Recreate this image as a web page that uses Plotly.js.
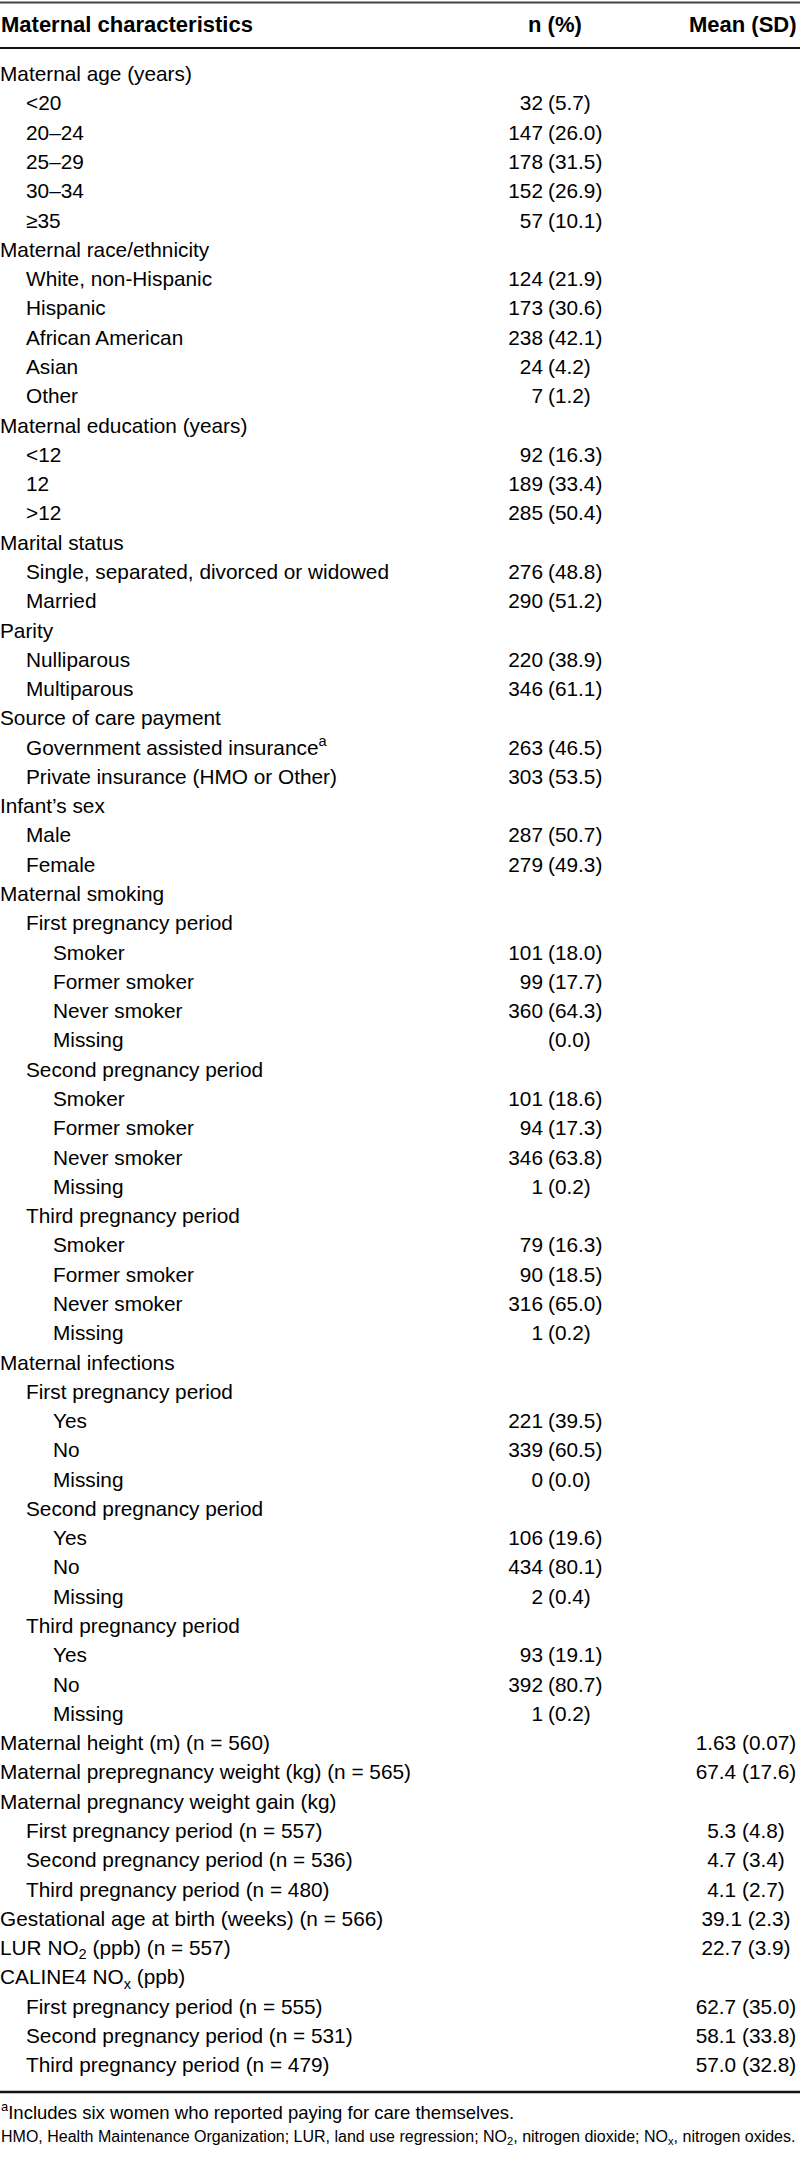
<!DOCTYPE html>
<html><head><meta charset="utf-8">
<script src="https://cdn.plot.ly/plotly-3.0.1.min.js"></script>
<style>html,body{margin:0;padding:0;background:#fff}</style>
</head><body><div id="chart" style="width:800px;height:2160px"></div>
<script>
// ---- data ----
const rowLabels = [
  "Maternal age (years)", "&lt;20", "20–24", "25–29", "30–34", "≥35",
  "Maternal race/ethnicity", "White, non-Hispanic", "Hispanic", "African American", "Asian", "Other",
  "Maternal education (years)", "&lt;12", "12", "&gt;12",
  "Marital status", "Single, separated, divorced or widowed", "Married",
  "Parity", "Nulliparous", "Multiparous",
  "Source of care payment", "Government assisted insurance<sup>a</sup>", "Private insurance (HMO or Other)",
  "Infant’s sex", "Male", "Female",
  "Maternal smoking",
  "First pregnancy period", "Smoker", "Former smoker", "Never smoker", "Missing",
  "Second pregnancy period", "Smoker", "Former smoker", "Never smoker", "Missing",
  "Third pregnancy period", "Smoker", "Former smoker", "Never smoker", "Missing",
  "Maternal infections",
  "First pregnancy period", "Yes", "No", "Missing",
  "Second pregnancy period", "Yes", "No", "Missing",
  "Third pregnancy period", "Yes", "No", "Missing",
  "Maternal height (m) (n = 560)",
  "Maternal prepregnancy weight (kg) (n = 565)",
  "Maternal pregnancy weight gain (kg)",
  "First pregnancy period (n = 557)", "Second pregnancy period (n = 536)", "Third pregnancy period (n = 480)",
  "Gestational age at birth (weeks) (n = 566)",
  "LUR NO<sub>2</sub> (ppb) (n = 557)",
  "CALINE4 NO<sub>x</sub> (ppb)",
  "First pregnancy period (n = 555)", "Second pregnancy period (n = 531)", "Third pregnancy period (n = 479)"
];
const rowLevels = [
  0,1,1,1,1,1,
  0,1,1,1,1,1,
  0,1,1,1,
  0,1,1,
  0,1,1,
  0,1,1,
  0,1,1,
  0,
  1,2,2,2,2,
  1,2,2,2,2,
  1,2,2,2,2,
  0,
  1,2,2,2,
  1,2,2,2,
  1,2,2,2,
  0,0,0,1,1,1,0,0,0,1,1,1
];
const nCounts = [
  "", "32", "147", "178", "152", "57",
  "", "124", "173", "238", "24", "7",
  "", "92", "189", "285",
  "", "276", "290",
  "", "220", "346",
  "", "263", "303",
  "", "287", "279",
  "",
  "", "101", "99", "360", "",
  "", "101", "94", "346", "1",
  "", "79", "90", "316", "1",
  "",
  "", "221", "339", "0",
  "", "106", "434", "2",
  "", "93", "392", "1",
  "", "", "", "", "", "", "", "", "", "", "", ""
];
const nPercents = [
  "", "(5.7)", "(26.0)", "(31.5)", "(26.9)", "(10.1)",
  "", "(21.9)", "(30.6)", "(42.1)", "(4.2)", "(1.2)",
  "", "(16.3)", "(33.4)", "(50.4)",
  "", "(48.8)", "(51.2)",
  "", "(38.9)", "(61.1)",
  "", "(46.5)", "(53.5)",
  "", "(50.7)", "(49.3)",
  "",
  "", "(18.0)", "(17.7)", "(64.3)", "(0.0)",
  "", "(18.6)", "(17.3)", "(63.8)", "(0.2)",
  "", "(16.3)", "(18.5)", "(65.0)", "(0.2)",
  "",
  "", "(39.5)", "(60.5)", "(0.0)",
  "", "(19.6)", "(80.1)", "(0.4)",
  "", "(19.1)", "(80.7)", "(0.2)",
  "", "", "", "", "", "", "", "", "", "", "", ""
];
const meanSD = [
  "", "", "", "", "", "",
  "", "", "", "", "", "",
  "", "", "", "",
  "", "", "",
  "", "", "",
  "", "", "",
  "", "", "",
  "",
  "", "", "", "", "",
  "", "", "", "", "",
  "", "", "", "", "",
  "",
  "", "", "", "",
  "", "", "", "",
  "", "", "", "",
  "1.63 (0.07)", "67.4 (17.6)", "", "5.3 (4.8)", "4.7 (3.4)", "4.1 (2.7)",
  "39.1 (2.3)", "22.7 (3.9)", "", "62.7 (35.0)", "58.1 (33.8)", "57.0 (32.8)"
];
const headerLabels = ["Maternal characteristics", "n (%)", "Mean (SD)"];
const footnotes = [
  "<sup>a</sup>Includes six women who reported paying for care themselves.",
  "HMO, Health Maintenance Organization; LUR, land use regression; NO<sub>2</sub>, nitrogen dioxide; NO<sub>x</sub>, nitrogen oxides."
];

// ---- layout constants ----
const W = 800, H = 2160;
const ROW_H = 29.28, FIRST_Y = 76;
const FONT = "'Liberation Sans',Arial,sans-serif";
const BODY = 20.8, INK = "#000";
const indentX = [0, 26, 53];
const yTop = 1 - FIRST_Y / ROW_H;
const yBot = 1 + (H - FIRST_Y) / ROW_H;
const paperY = px => 1 - px / H;

const rowIdx = rowLabels.map((_, i) => i + 1);
const textTrace = (ids, xs, texts, pos) => ({
  type: "scatter", mode: "text", x: xs, y: ids, text: texts, textposition: pos,
  textfont: {family: FONT, size: BODY, color: INK}, hoverinfo: "skip", cliponaxis: false
});
const traces = [];
[0, 1, 2].forEach(lv => {
  const ids = rowIdx.filter(r => rowLevels[r - 1] === lv);
  traces.push(textTrace(ids, ids.map(() => indentX[lv]), ids.map(r => rowLabels[r - 1]), "middle right"));
});
const cIds = rowIdx.filter(r => nCounts[r - 1] !== "");
traces.push(textTrace(cIds, cIds.map(() => 543), cIds.map(r => nCounts[r - 1]), "middle left"));
const pIds = rowIdx.filter(r => nPercents[r - 1] !== "");
traces.push(textTrace(pIds, pIds.map(() => 548), pIds.map(r => nPercents[r - 1]), "middle right"));
const mIds = rowIdx.filter(r => meanSD[r - 1] !== "");
traces.push(textTrace(mIds, mIds.map(() => 746), mIds.map(r => meanSD[r - 1]), "middle center"));

const hy = paperY(25);
const annotations = [
  {text: "<b>" + headerLabels[0] + "</b>", x: 0, xanchor: "left"},
  {text: "<b>" + headerLabels[1] + "</b>", x: 555, xanchor: "center"},
  {text: "<b>" + headerLabels[2] + "</b>", x: 798, xanchor: "right"}
].map(a => Object.assign(a, {xref: "x", yref: "paper", y: hy, yanchor: "middle", showarrow: false, borderpad: 0,
  font: {family: FONT, size: 22, color: INK}}));
annotations.push({text: footnotes[0], xref: "x", yref: "paper", x: 0, xanchor: "left", y: paperY(2111), yanchor: "middle",
  showarrow: false, borderpad: 0, font: {family: FONT, size: 18.5, color: INK}});
annotations.push({text: footnotes[1], xref: "x", yref: "paper", x: 0, xanchor: "left", y: paperY(2137), yanchor: "middle",
  showarrow: false, borderpad: 0, font: {family: FONT, size: 16, color: INK}});

const rule = (px, w, c) => ({type: "line", xref: "paper", yref: "paper", x0: 0, x1: 1, y0: paperY(px), y1: paperY(px),
  line: {color: c, width: w}});
const shapes = [rule(2.5, 2, "#444"), rule(48, 2, "#111"), rule(2092, 2.5, "#111")];

Plotly.newPlot("chart", traces, {
  width: W, height: H,
  margin: {l: 0, r: 0, t: 0, b: 0, pad: 0},
  paper_bgcolor: "#fff", plot_bgcolor: "#fff",
  showlegend: false,
  xaxis: {range: [0, W], visible: false, fixedrange: true},
  yaxis: {range: [yBot, yTop], visible: false, fixedrange: true},
  annotations: annotations, shapes: shapes
}, {staticPlot: true, displayModeBar: false});
</script></body></html>
